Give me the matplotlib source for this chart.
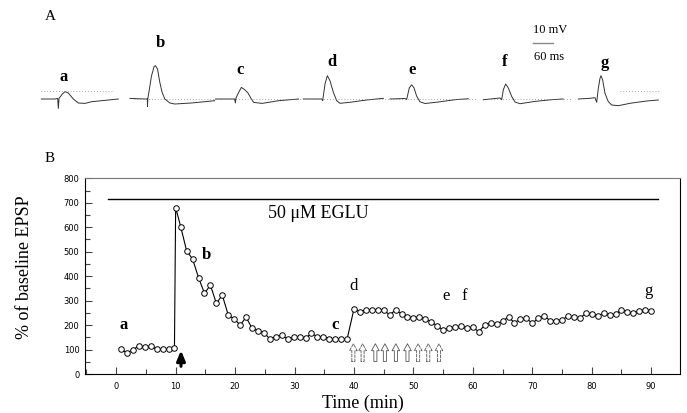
import matplotlib.pyplot as plt
import numpy as np
from matplotlib.ticker import MultipleLocator

# ---- panel A: sample EPSP traces (time in ms after stimulus, mV from baseline)
trace_a = [(-51, 0), (-10, 0), (-2, 0.3), (0, -4.7), (2, 0.3), (12, 2.5), (20, 3.65), (30, 3),
           (45, 0), (60, -2), (80, -2.2), (100, -1.35), (130, -0.85), (180, 0)]
trace_b = [(-52, 0.3), (-8, 0), (0, 0), (0.6, -3.7), (1.5, 0.2), (12.6, 11.6), (20.4, 16.3),
           (24.6, 16.65), (30.6, 15), (37.5, 8.3), (44.4, 3.3), (52.5, 0), (67.5, -2),
           (82.5, -2.5), (132, -2), (172, -1.35), (202, -0.85)]
trace_c = [(-58, 0), (-6, 0), (0, 0), (2, -2), (4, 0.5), (12, 3.3), (20, 5.8), (30, 4.65),
           (40, 3), (50, 0), (57, -1.7), (82, -2.2), (132, -0.85), (192, 0)]
trace_d = [(-57, 0), (-2, 0), (1, -0.85), (8, 7.5), (15, 11.65), (23, 9.15), (33, 3.35),
           (43, -0.85), (53, -2.15), (83, -1.65), (133, -0.5), (183, 0.35)]
trace_e = [(-50, 0), (-5, 0.25), (0, -0.25), (8, 5.6), (15, 7.1), (22, 5.6), (30, 1.4),
           (40, -1.4), (55, -2.25), (90, -1.6), (150, -0.25), (185, 0.1)]
trace_f = [(-55, -0.35), (-5, 0.5), (0, -0.35), (5, 4.65), (12, 7.5), (20, 5.5), (30, 1.3),
           (40, -1.5), (55, -2.35), (100, -1.2), (150, -0.35), (185, 0)]
trace_g = [(-55, 0), (-20, 0.35), (-5, 0.65), (0, -1.65), (5, 5.35), (10, 10.35), (13, 11.65),
           (18, 9.5), (25, 2.85), (35, -1.35), (45, -3), (65, -3.35), (100, -2.15),
           (150, -1), (185, -0.5)]
traces = [trace_a, trace_b, trace_c, trace_d, trace_e, trace_f, trace_g]
trace_labels = ['a', 'b', 'c', 'd', 'e', 'f', 'g']
stim_times = [175, 442, 704, 967, 1220, 1505, 1790]          # where each sweep sits (ms)
label_pos_a = [(190, 11), (480, 28), (720, 14.5), (995, 18.5), (1235, 14.5), (1513, 18.5), (1815, 18)]

# ---- panel B: time course
t_base = [0.8, 1.8, 2.8, 3.8, 4.8, 5.8, 6.8, 7.8, 8.8, 9.8]
v_base = [101, 87, 98, 116, 109, 114, 102, 101, 101, 108]
t_peak = [10.0]
v_peak = [680]
t_decay = [10.85, 11.85, 12.85, 13.85, 14.85, 15.85, 16.85, 17.85, 18.85, 19.85,
           20.85, 21.85, 22.85, 23.85, 24.85, 25.85, 26.85, 27.85, 28.85, 29.85,
           30.85, 31.85, 32.85, 33.85, 34.85, 35.85, 36.85, 37.85, 38.85]
v_decay = [602, 503, 470, 394, 330, 363, 289, 322, 241, 225,
           200, 232, 187, 177, 169, 143, 153, 159, 142, 151,
           151, 146, 166, 152, 153, 145, 143, 143, 143]
t_late = list(range(40, 91))
v_late = [266, 255, 262, 262, 262, 262, 241, 262, 245, 234,
          228, 234, 224, 214, 196, 180, 187, 191, 196, 187,
          191, 173, 200, 210, 203, 218, 232, 210, 224, 228,
          207, 228, 237, 218, 218, 221, 237, 232, 228, 248,
          245, 237, 248, 241, 245, 262, 255, 248, 259, 262, 259]
time = t_base + t_peak + t_decay + t_late
epsp = v_base + v_peak + v_decay + v_late

eglu_start, eglu_end, eglu_level = -1.3, 91.2, 715
tetanus_x = 10.9
open_arrow_x = [39.9, 41.45, 43.6, 45.2, 47.05, 49.0, 50.8, 52.5, 54.3]
open_arrow_dashed = [True, True, False, False, False, False, True, True, True]
letters_b = ['a', 'b', 'c', 'd', 'e', 'f', 'g']
letters_b_x = [1.3, 15.2, 36.8, 39.9, 55.5, 58.6, 89.5]
letters_b_y = [200, 485, 200, 358, 318, 318, 338]

serif = 'Liberation Serif'

fig = plt.figure(figsize=(6.87, 4.13), dpi=100)

# ---------------- panel A
axA = fig.add_axes([0, (413 - 130) / 413, 1, 100 / 413])
axA.set_xlim(0, 2061)
axA.set_ylim(-15.5, 34.5)
axA.axis('off')
for tr, t0 in zip(traces, stim_times):
    tt = [t0 + p[0] for p in tr]
    vv = [p[1] for p in tr]
    axA.plot(tt, vv, color='#333333', lw=0.7)
# dotted reference sweeps
for t0 in stim_times[1:6]:
    axA.plot([t0 - 40, t0 + 210], [0, 0], color='#888888', lw=0.6, ls=(0, (1, 2.5)))
axA.plot([stim_times[0] - 52, stim_times[0] + 165], [4, 4], color='#888888', lw=0.6, ls=(0, (1, 2.5)))
axA.plot([stim_times[6] + 70, stim_times[6] + 190], [4, 4], color='#888888', lw=0.6, ls=(0, (1, 2.5)))
for lab, (lx, ly) in zip(trace_labels, label_pos_a):
    axA.text(lx, ly, lab, family=serif, fontsize=12, fontweight='bold', ha='center', va='center')
# scale bar
axA.plot([1600, 1660], [27.85, 27.85], color='#888888', lw=1.0)
axA.text(1650, 34.5, '10 mV', family=serif, fontsize=9, ha='center', va='center')
axA.text(1647, 21.2, '60 ms', family=serif, fontsize=9, ha='center', va='center')

fig.text(50 / 687, 1 - 17 / 413, 'A', family=serif, fontsize=11, ha='center', va='center')
fig.text(50 / 687, 1 - 158 / 413, 'B', family=serif, fontsize=11, ha='center', va='center')

# ---------------- panel B
ax = fig.add_axes([85 / 687, 39 / 413, 595 / 687, 195.7 / 413])
ax.plot(time, epsp, color='black', lw=0.8, marker='o', ms=4.0,
        mfc='white', mec='black', mew=0.7)
ax.plot([eglu_start, eglu_end], [eglu_level, eglu_level], color='black', lw=1.0)
ax.text(25.5, 656, '50 \u03bcM EGLU', family=serif, fontsize=13, ha='left', va='center')

ax.annotate('', xy=(tetanus_x, 108), xytext=(tetanus_x, 20),
            arrowprops=dict(arrowstyle='-|>,head_length=0.6,head_width=0.25',
                            color='black', lw=2.2))
for xa, dashed in zip(open_arrow_x, open_arrow_dashed):
    ax.annotate('', xy=(xa, 135), xytext=(xa, 40),
                arrowprops=dict(arrowstyle='simple,head_length=0.5,head_width=0.55,tail_width=0.22',
                                fc='white', ec='#555555', lw=0.6,
                                ls='--' if dashed else '-'))

for lab, lx, ly in zip(letters_b, letters_b_x, letters_b_y):
    ax.text(lx, ly, lab, family=serif, fontsize=12,
            fontweight='bold' if lab in 'abc' else 'normal', ha='center', va='center')

ax.set_xlim(-5.25, 94.85)
ax.set_ylim(0, 800)
ax.xaxis.set_major_locator(MultipleLocator(10))
ax.xaxis.set_minor_locator(MultipleLocator(5))
ax.yaxis.set_major_locator(MultipleLocator(100))
ax.yaxis.set_minor_locator(MultipleLocator(50))
ax.set_xticks(np.arange(0, 91, 10))
ax.tick_params(which='both', direction='in', width=0.8, color='#444444',
               labelsize=6, top=False, right=False)
ax.tick_params(which='major', length=5)
ax.tick_params(which='minor', length=3.5)
ax.tick_params(axis='x', pad=6)
ax.tick_params(axis='y', pad=4)
for s in ax.spines.values():
    s.set_linewidth(0.8)
ax.spines['top'].set_color('#777777')

ax.set_xlabel('Time (min)', family=serif, fontsize=13)
ax.set_ylabel('% of baseline EPSP', family=serif, fontsize=13)
ax.xaxis.set_label_coords((363 - 85) / 595, (374 - 403) / 195.7)
ax.yaxis.set_label_coords((25 - 85) / 595, (374 - 267) / 195.7)
ax.xaxis.label.set_va('center')
ax.yaxis.label.set_va('center')

fig.savefig('out.png', dpi=100)
